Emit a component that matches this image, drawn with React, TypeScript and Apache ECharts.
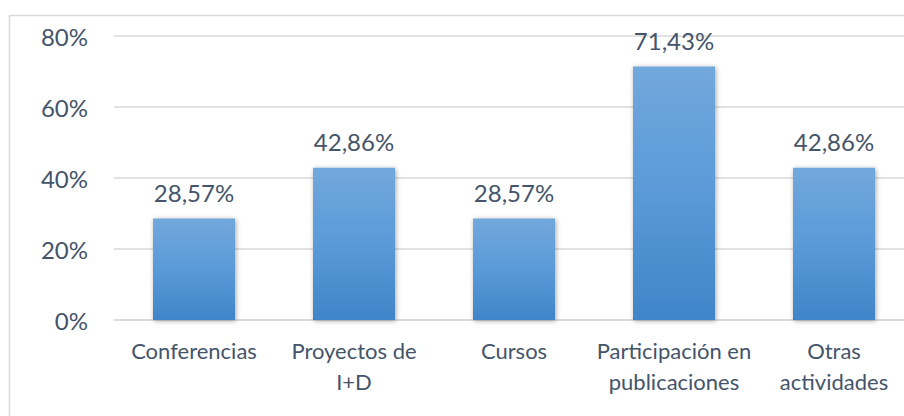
import React, { useEffect, useRef } from "react";
import * as echarts from "echarts";

const categories = [
  "Conferencias",
  "Proyectos de\nI+D",
  "Cursos",
  "Participación en\npublicaciones",
  "Otras\nactividades",
];
const values = [28.57, 42.86, 28.57, 71.43, 42.86];
const yTicks = [0, 20, 40, 60, 80];

const FONT = "Lato, 'Noto Sans', sans-serif";
const TEXT = "#44546A";

export default function App() {
  const ref = useRef<HTMLDivElement>(null);
  useEffect(() => {
    if (!ref.current) return;
    const chart = echarts.init(ref.current, undefined, { renderer: "svg" });
    chart.setOption({
      animation: false,
      backgroundColor: "#ffffff",
      textStyle: { fontFamily: FONT },
      graphic: [
        {
          type: "rect",
          shape: { x: 9.5, y: 15.5, width: 960, height: 460 },
          style: { fill: "none", stroke: "#d9d9d9", lineWidth: 1.5 },
          silent: true,
          z: -1,
        },
      ],
      grid: { left: 114, right: 16, top: 36, bottom: 110, containLabel: false },
      xAxis: {
        type: "category",
        data: categories,
        axisLine: { show: true, lineStyle: { color: "#d9d9d9", width: 1.5 } },
        axisTick: { show: false },
        axisLabel: {
          color: TEXT,
          fontFamily: FONT,
          fontSize: 22,
          lineHeight: 31,
          margin: 15,
          interval: 0,
        },
      },
      yAxis: {
        type: "value",
        min: yTicks[0],
        max: yTicks[yTicks.length - 1],
        interval: 20,
        axisLine: { show: false },
        axisTick: { show: false },
        splitLine: { lineStyle: { color: "#d9d9d9", width: 1.5 } },
        axisLabel: {
          color: TEXT,
          fontFamily: FONT,
          fontSize: 24,
          margin: 26,
          formatter: (v: number) => `${v}%`,
        },
      },
      series: [
        {
          type: "bar",
          data: values,
          barWidth: 82,
          itemStyle: {
            color: new echarts.graphic.LinearGradient(0, 0, 0, 1, [
              { offset: 0, color: "#72a8dc" },
              { offset: 0.5, color: "#5a9ad8" },
              { offset: 1, color: "#3f85c7" },
            ]),
            shadowBlur: 5,
            shadowOffsetX: 1,
            shadowOffsetY: 1,
            shadowColor: "rgba(0,0,0,0.35)",
          },
          label: {
            show: true,
            position: "top",
            distance: 14,
            color: TEXT,
            fontFamily: FONT,
            fontSize: 24,
            formatter: (p: any) => `${p.value.toFixed(2).replace(".", ",")}%`,
          },
        },
      ],
    });
    return () => chart.dispose();
  }, []);
  return (
    <div
      ref={ref}
      style={{ position: "fixed", left: 0, top: 0, width: 930, height: 430 }}
    />
  );
}
